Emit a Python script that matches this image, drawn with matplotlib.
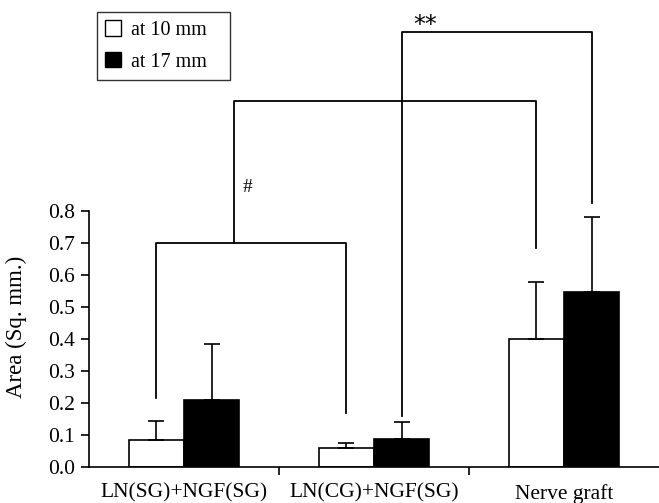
import numpy as np
import matplotlib
matplotlib.use("Agg")
import matplotlib.pyplot as plt
from matplotlib.patches import Patch

groups = ["LN(SG)+NGF(SG)", "LN(CG)+NGF(SG)", "Nerve graft"]
mean_10 = [0.084, 0.059, 0.40]
sd_10 = [0.060, 0.016, 0.178]
mean_17 = [0.209, 0.088, 0.547]
sd_17 = [0.175, 0.052, 0.233]

# significance brackets: (left end y, top y, right end y)
br_a = (0.215, 0.70, 0.17)    # SG white -> CG white
br_b = (0.70, 1.144, 0.684)   # from bracket a -> nerve graft white
br_b_x = 0.263                # where bracket b leaves bracket a
br_c = (0.16, 1.36, 0.825)    # CG black -> nerve graft black

plt.rcParams['font.family'] = ['Liberation Serif', 'DejaVu Serif']

fig = plt.figure(figsize=(6.59, 5.03), dpi=100)
ax = fig.add_axes([0.135, 0.0716, 0.865, 0.9284])

x = np.arange(len(groups))
w = 0.29
x10 = x - w / 2
x17 = x + w / 2

ax.bar(x10, mean_10, w, color='white', edgecolor='black', linewidth=1.2, zorder=2)
ax.bar(x17, mean_17, w, color='black', edgecolor='black', linewidth=1.2, zorder=2)
ax.errorbar(x10, mean_10, yerr=[np.zeros(3), sd_10], fmt='none', ecolor='black',
            elinewidth=1.2, capsize=6, capthick=1.2, zorder=3)
ax.errorbar(x17, mean_17, yerr=[np.zeros(3), sd_17], fmt='none', ecolor='black',
            elinewidth=1.2, capsize=6, capthick=1.2, zorder=3)

lw = 1.3
ax.plot([x10[0], x10[0], x10[1], x10[1]], [br_a[0], br_a[1], br_a[1], br_a[2]],
        color='black', lw=lw, clip_on=False)
ax.plot([br_b_x, br_b_x, x10[2], x10[2]], [br_b[0], br_b[1], br_b[1], br_b[2]],
        color='black', lw=lw, clip_on=False)
ax.text(br_b_x + 0.045, 0.872, '#', fontsize=14, ha='left', va='center')
ax.plot([x17[1], x17[1], x17[2], x17[2]], [br_c[0], br_c[1], br_c[1], br_c[2]],
        color='black', lw=lw, clip_on=False)
ax.text(x17[1] + 0.125, 1.38, '**', fontsize=17, ha='center', va='center',
        family='DejaVu Sans')

ax.set_xlim(-0.5, 2.5)
ax.set_ylim(0, 1.459)
ax.spines['top'].set_visible(False)
ax.spines['right'].set_visible(False)
ax.spines['left'].set_bounds(0, 0.8)
ax.spines['left'].set_linewidth(1.2)
ax.spines['bottom'].set_linewidth(1.2)

ax.set_yticks(np.arange(0, 0.81, 0.1))
ax.set_yticklabels([f"{v:.1f}" for v in np.arange(0, 0.81, 0.1)])
ax.tick_params(axis='y', length=6, width=1.2, labelsize=15.5, pad=4)
ax.set_xticks([0.5, 1.5])
ax.set_xticklabels([])
ax.tick_params(axis='x', which='major', length=6, width=1.2, direction='out')
ax.set_xticks(x, minor=True)
ax.set_xticklabels(groups, minor=True)
ax.tick_params(axis='x', which='minor', length=0, labelsize=15.5, pad=12)

ax.set_ylabel("Area (Sq. mm.)", fontsize=16.5)
ax.yaxis.set_label_coords(-0.109, 0.301)

handles = [Patch(facecolor='white', edgecolor='black'),
           Patch(facecolor='black', edgecolor='black')]
leg = fig.legend(handles, ["at 10 mm   ", "at 17 mm   "], loc='upper left',
                 bbox_to_anchor=(0.147, 0.976), borderaxespad=0, fontsize=14.5,
                 frameon=True, fancybox=False, edgecolor='black',
                 handlelength=0.8, handleheight=0.8, handletextpad=0.5,
                 borderpad=0.4, labelspacing=0.6)
leg.get_frame().set_linewidth(1.0)

fig.savefig("out.png", dpi=100)
